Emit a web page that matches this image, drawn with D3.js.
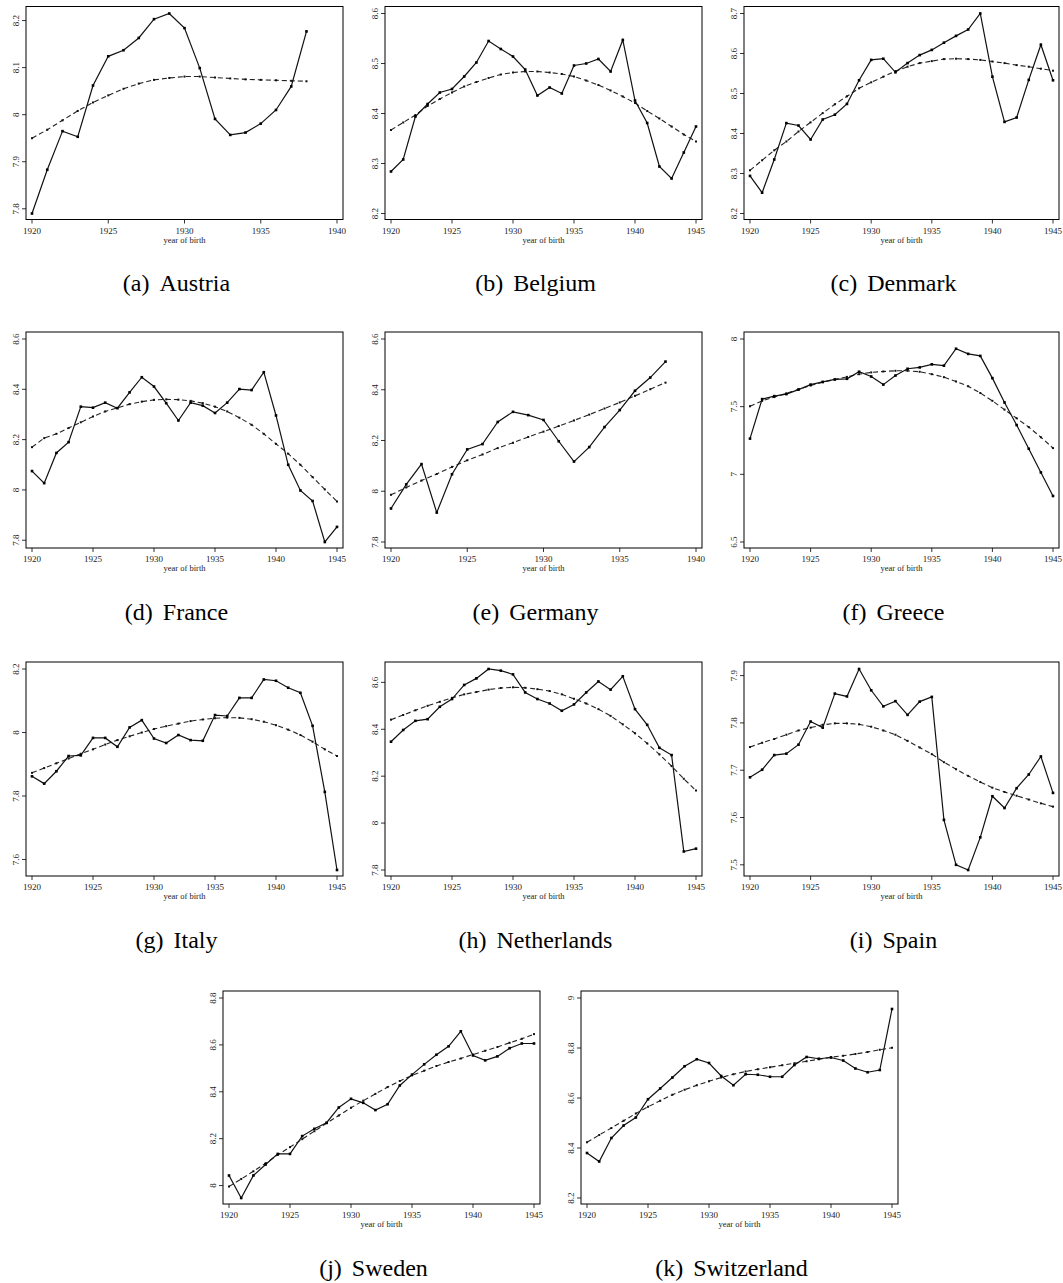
<!DOCTYPE html>
<html><head><meta charset="utf-8">
<script src="https://cdn.jsdelivr.net/npm/d3@7"></script>
<style>body{margin:0;background:#fff}svg{display:block}</style>
</head><body><svg id="c" width="1063" height="1283"></svg>
<script>
// ---------- DATA ----------
const yearsLong = [1920,1921,1922,1923,1924,1925,1926,1927,1928,1929,1930,1931,1932,1933,1934,1935,1936,1937,1938,1939,1940,1941,1942,1943,1944,1945];
const yearsShort = [1920,1921,1922,1923,1924,1925,1926,1927,1928,1929,1930,1931,1932,1933,1934,1935,1936,1937,1938];
const xTicksLong = [1920,1925,1930,1935,1940,1945];
const xTicksShort = [1920,1925,1930,1935,1940];
const xTitle = "year of birth";
const countries = ["Austria","Belgium","Denmark","France","Germany","Greece","Italy","Netherlands","Spain","Sweden","Switzerland"];
const letters = ["a","b","c","d","e","f","g","h","i","j","k"];

const austriaObs = [7.790,7.883,7.965,7.953,8.062,8.124,8.137,8.163,8.203,8.215,8.184,8.099,7.991,7.957,7.962,7.981,8.010,8.060,8.177];
const austriaFit = [7.950,7.968,7.988,8.008,8.026,8.041,8.055,8.066,8.074,8.078,8.081,8.081,8.079,8.077,8.075,8.074,8.073,8.072,8.071];
const austriaYTicks = [7.8,7.9,8,8.1,8.2];

const belgiumObs = [8.284,8.308,8.394,8.419,8.442,8.449,8.474,8.502,8.545,8.529,8.514,8.488,8.436,8.452,8.440,8.496,8.500,8.509,8.484,8.547,8.426,8.381,8.294,8.270,8.322,8.374];
const belgiumFit = [8.367,8.382,8.397,8.415,8.429,8.442,8.454,8.463,8.471,8.478,8.482,8.484,8.484,8.482,8.479,8.474,8.466,8.457,8.446,8.434,8.421,8.405,8.390,8.374,8.358,8.344];
const belgiumYTicks = [8.2,8.3,8.4,8.5,8.6];

const denmarkObs = [8.294,8.252,8.335,8.426,8.420,8.385,8.435,8.447,8.474,8.533,8.584,8.587,8.553,8.576,8.596,8.609,8.627,8.644,8.660,8.700,8.542,8.429,8.440,8.534,8.622,8.533];
const denmarkFit = [8.308,8.333,8.358,8.380,8.405,8.428,8.451,8.473,8.493,8.513,8.528,8.542,8.556,8.567,8.576,8.581,8.586,8.587,8.586,8.584,8.580,8.576,8.571,8.567,8.562,8.557];
const denmarkYTicks = [8.2,8.3,8.4,8.5,8.6,8.7];

const franceObs = [8.075,8.027,8.147,8.190,8.331,8.327,8.347,8.325,8.388,8.448,8.411,8.345,8.276,8.347,8.335,8.306,8.347,8.401,8.397,8.468,8.296,8.100,7.998,7.956,7.793,7.853];
const franceFit = [8.170,8.206,8.223,8.246,8.269,8.292,8.312,8.326,8.341,8.351,8.358,8.360,8.359,8.354,8.345,8.331,8.312,8.287,8.259,8.223,8.183,8.144,8.100,8.051,8.002,7.954];
const franceYTicks = [7.8,8,8.2,8.4,8.6];

const germanyObs = [7.932,8.027,8.107,7.916,8.067,8.165,8.186,8.273,8.313,8.300,8.281,8.197,8.117,8.174,8.253,8.320,8.396,8.448,8.511];
const germanyFit = [7.986,8.015,8.042,8.068,8.096,8.122,8.145,8.170,8.191,8.214,8.235,8.257,8.279,8.302,8.326,8.350,8.376,8.402,8.428];
const germanyYTicks = [7.8,8,8.2,8.4,8.6];

const greeceObs = [7.264,7.556,7.578,7.593,7.626,7.663,7.683,7.701,7.706,7.758,7.723,7.663,7.730,7.780,7.790,7.813,7.803,7.928,7.890,7.875,7.711,7.531,7.364,7.189,7.014,6.840];
const greeceFit = [7.503,7.543,7.571,7.598,7.628,7.656,7.681,7.701,7.720,7.740,7.753,7.760,7.765,7.765,7.758,7.740,7.718,7.686,7.651,7.601,7.543,7.478,7.414,7.349,7.274,7.194];
const greeceYTicks = [6.5,7,7.5,8];

const italyObs = [7.862,7.839,7.878,7.926,7.928,7.983,7.983,7.955,8.016,8.039,7.981,7.967,7.992,7.976,7.974,8.055,8.052,8.109,8.109,8.167,8.163,8.141,8.125,8.021,7.813,7.567];
const italyFit = [7.873,7.888,7.903,7.918,7.933,7.947,7.962,7.976,7.988,8.000,8.011,8.020,8.028,8.036,8.041,8.045,8.047,8.046,8.042,8.034,8.023,8.009,7.992,7.971,7.947,7.926];
const italyYTicks = [7.6,7.8,8,8.2];

const netherlandsObs = [8.347,8.397,8.436,8.443,8.496,8.529,8.589,8.617,8.657,8.650,8.634,8.557,8.529,8.510,8.479,8.506,8.557,8.604,8.569,8.626,8.486,8.419,8.321,8.290,7.879,7.891];
const netherlandsFit = [8.441,8.461,8.481,8.500,8.517,8.534,8.549,8.559,8.569,8.576,8.579,8.577,8.571,8.563,8.549,8.530,8.510,8.486,8.457,8.421,8.383,8.340,8.293,8.243,8.189,8.139];
const netherlandsYTicks = [7.8,8,8.2,8.4,8.6];

const spainObs = [7.685,7.701,7.732,7.735,7.754,7.803,7.790,7.862,7.856,7.914,7.869,7.835,7.846,7.817,7.845,7.855,7.595,7.500,7.489,7.558,7.645,7.620,7.662,7.691,7.729,7.652];
const spainFit = [7.749,7.758,7.766,7.775,7.784,7.790,7.796,7.799,7.799,7.797,7.792,7.784,7.775,7.762,7.748,7.734,7.717,7.702,7.688,7.675,7.663,7.654,7.646,7.638,7.630,7.623];
const spainYTicks = [7.5,7.6,7.7,7.8,7.9];

const swedenObs = [8.043,7.947,8.043,8.090,8.135,8.135,8.211,8.242,8.268,8.333,8.370,8.353,8.322,8.347,8.427,8.473,8.517,8.558,8.594,8.658,8.555,8.534,8.551,8.586,8.606,8.606];
const swedenFit = [7.996,8.028,8.061,8.095,8.131,8.164,8.198,8.232,8.266,8.299,8.332,8.362,8.391,8.420,8.446,8.470,8.490,8.510,8.527,8.542,8.559,8.575,8.591,8.609,8.626,8.646];
const swedenYTicks = [8,8.2,8.4,8.6,8.8];

const switzerlandObs = [8.380,8.346,8.440,8.490,8.522,8.595,8.638,8.682,8.727,8.755,8.740,8.688,8.651,8.695,8.693,8.685,8.685,8.732,8.764,8.757,8.762,8.750,8.718,8.703,8.712,8.956];
const switzerlandFit = [8.423,8.452,8.480,8.509,8.538,8.565,8.589,8.613,8.633,8.651,8.667,8.682,8.695,8.706,8.715,8.723,8.731,8.739,8.747,8.755,8.763,8.769,8.776,8.784,8.793,8.801];
const switzerlandYTicks = [8.2,8.4,8.6,8.8,9];

// ---------- ASSEMBLY ----------
const series = [
  [yearsShort, xTicksShort, austriaObs, austriaFit, austriaYTicks],
  [yearsLong, xTicksLong, belgiumObs, belgiumFit, belgiumYTicks],
  [yearsLong, xTicksLong, denmarkObs, denmarkFit, denmarkYTicks],
  [yearsLong, xTicksLong, franceObs, franceFit, franceYTicks],
  [yearsShort, xTicksShort, germanyObs, germanyFit, germanyYTicks],
  [yearsLong, xTicksLong, greeceObs, greeceFit, greeceYTicks],
  [yearsLong, xTicksLong, italyObs, italyFit, italyYTicks],
  [yearsLong, xTicksLong, netherlandsObs, netherlandsFit, netherlandsYTicks],
  [yearsLong, xTicksLong, spainObs, spainFit, spainYTicks],
  [yearsLong, xTicksLong, swedenObs, swedenFit, swedenYTicks],
  [yearsLong, xTicksLong, switzerlandObs, switzerlandFit, switzerlandYTicks]
];

// layout: frame boxes [left, top, right, bottom]
const rowBox = [[6.5,219.5],[332,548],[662,876],[991,1204]];
const colBox3 = [[26,343],[385,702],[744,1059]];
const colBox4 = [[223,540],[581,898]];
function frameFor(i){
  const r = Math.floor(i/3);
  const c = r < 3 ? colBox3[i%3] : colBox4[i-9];
  return {L:c[0], R:c[1], T:rowBox[r][0], B:rowBox[r][1]};
}

const svg = d3.select("#c");
const FONT = "'Liberation Serif','Times New Roman',serif";
const fmt = v => String(v);

series.forEach((s, i) => {
  const [yrs, xt, obs, fit, yt] = s;
  const f = frameFor(i);
  const g = svg.append("g");
  const x = d3.scaleLinear().domain([xt[0], xt[xt.length-1]]).range([f.L+6, f.R-6]);
  const ext = d3.extent(yt.concat(obs, fit));
  const y = d3.scaleLinear().domain(ext).range([f.B-6, f.T+7]);

  // frame
  g.append("rect").attr("x", f.L).attr("y", f.T).attr("width", f.R-f.L).attr("height", f.B-f.T)
    .attr("fill","none").attr("stroke","#000").attr("stroke-width",1);

  // x ticks
  const xa = g.append("g");
  xt.forEach(v => {
    xa.append("line").attr("x1", x(v)).attr("x2", x(v)).attr("y1", f.B).attr("y2", f.B+4)
      .attr("stroke","#000").attr("stroke-width",0.8);
    xa.append("text").attr("x", x(v)).attr("y", f.B+14).attr("text-anchor","middle")
      .attr("font-family", FONT).attr("font-size", 9).attr("fill","#222").text(fmt(v));
  });
  g.append("text").attr("x", (x(xt[0])+x(xt[xt.length-1]))/2).attr("y", f.B+23)
    .attr("text-anchor","middle").attr("font-family", FONT).attr("font-size", 8.5).attr("fill","#222").text(xTitle);

  // y ticks
  const ya = g.append("g");
  yt.forEach(v => {
    ya.append("line").attr("x1", f.L-4).attr("x2", f.L).attr("y1", y(v)).attr("y2", y(v))
      .attr("stroke","#000").attr("stroke-width",0.8);
    ya.append("text").attr("transform", `translate(${f.L-7.5},${y(v)}) rotate(-90)`)
      .attr("text-anchor","middle").attr("font-family", FONT).attr("font-size", 9).attr("fill","#222").text(fmt(v));
  });

  const obsPts = yrs.map((yr, k) => [yr, obs[k]]);
  const fitPts = yrs.map((yr, k) => [yr, fit[k]]);
  const line = d3.line().x(d => x(d[0])).y(d => y(d[1]));

  // fitted dashed
  g.append("path").attr("d", line(fitPts)).attr("fill","none").attr("stroke","#222")
    .attr("stroke-width",1.1).attr("stroke-dasharray","5,3");
  g.selectAll(null).data(fitPts).enter().append("rect")
    .attr("x", d => x(d[0])-1).attr("y", d => y(d[1])-1).attr("width",2).attr("height",2).attr("fill","#111");

  // observed solid
  g.append("path").attr("d", line(obsPts)).attr("fill","none").attr("stroke","#111").attr("stroke-width",1.2);
  g.selectAll(null).data(obsPts).enter().append("rect")
    .attr("x", d => x(d[0])-1.3).attr("y", d => y(d[1])-1.3).attr("width",2.6).attr("height",2.6).attr("fill","#000");

  // caption
  const cap = svg.append("text").attr("x", (f.L+f.R)/2 - 8).attr("y", f.B + 71.5)
    .attr("text-anchor","middle").attr("font-family", FONT).attr("font-size", 24).attr("fill","#000");
  cap.append("tspan").text(`(${letters[i]})`);
  cap.append("tspan").attr("dx", 10).text(countries[i]);
});
</script>
</body></html>
